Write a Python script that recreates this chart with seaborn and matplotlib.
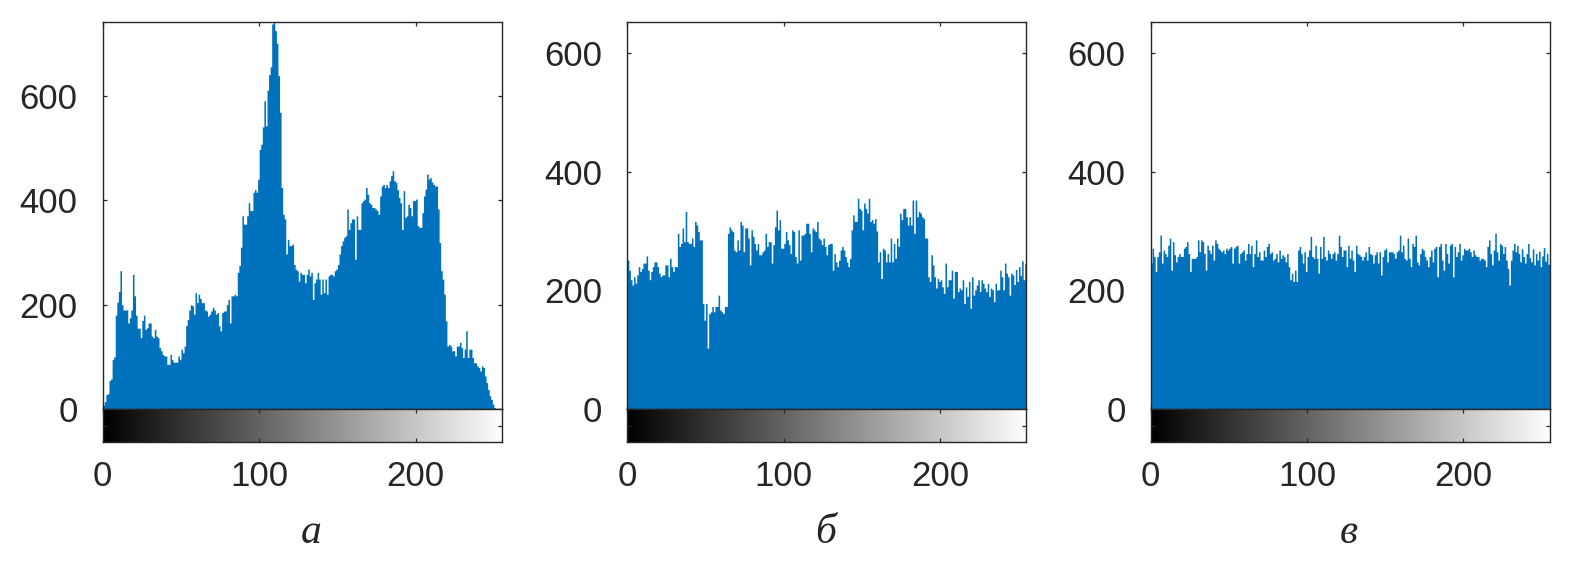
import numpy as np
import matplotlib
matplotlib.use("Agg")
import matplotlib.pyplot as plt
import seaborn as sns

# grey levels 0..255 and the counts
levels = np.arange(256)

counts_a = [
    8, 15, 28, 30, 55, 58, 95, 100, 180, 205, 225, 265, 200, 190, 190, 190,
    165, 175, 190, 258, 217, 180, 155, 155, 137, 170, 180, 153, 156, 165, 165, 140,
    137, 153, 140, 137, 118, 112, 105, 102, 102, 86, 86, 105, 95, 90, 90, 90,
    102, 95, 115, 108, 121, 160, 172, 190, 200, 198, 182, 223, 204, 220, 212, 204,
    204, 190, 188, 178, 182, 188, 195, 190, 182, 185, 160, 150, 185, 188, 188, 200,
    210, 165, 217, 217, 220, 217, 262, 275, 310, 370, 354, 354, 370, 395, 380, 380,
    415, 420, 415, 440, 497, 507, 540, 590, 542, 610, 640, 655, 737, 745, 724, 700,
    638, 568, 424, 373, 364, 297, 325, 313, 313, 316, 277, 268, 265, 245, 262, 258,
    258, 242, 258, 268, 255, 262, 210, 242, 249, 262, 249, 220, 249, 223, 249, 220,
    255, 258, 258, 255, 265, 268, 277, 297, 313, 322, 329, 332, 383, 344, 357, 364,
    364, 287, 370, 344, 344, 395, 399, 402, 424, 411, 395, 392, 386, 386, 383, 380,
    373, 408, 427, 430, 424, 430, 424, 437, 447, 456, 437, 434, 420, 405, 395, 344,
    418, 367, 370, 392, 386, 370, 399, 399, 402, 351, 348, 348, 376, 408, 421, 450,
    440, 443, 435, 430, 427, 427, 383, 319, 265, 249, 220, 169, 121, 124, 121, 112,
    112, 102, 121, 121, 128, 118, 99, 115, 150, 99, 115, 115, 99, 89, 89, 83,
    80, 73, 83, 80, 64, 51, 38, 26, 19, 10, 3, 0, 0, 0, 0, 0,
]

counts_b = [
    251, 234, 218, 209, 223, 212, 226, 240, 232, 237, 246, 246, 258, 234, 218, 232,
    240, 248, 248, 240, 229, 223, 226, 226, 243, 243, 223, 254, 240, 232, 240, 240,
    296, 274, 279, 305, 282, 333, 282, 279, 279, 288, 274, 316, 310, 299, 285, 285,
    178, 150, 178, 103, 161, 164, 173, 164, 173, 173, 192, 167, 164, 161, 173, 173,
    296, 307, 302, 299, 268, 265, 285, 268, 316, 310, 265, 305, 305, 288, 243, 302,
    291, 279, 268, 279, 260, 260, 265, 268, 296, 274, 282, 282, 246, 277, 307, 335,
    302, 319, 271, 271, 279, 299, 285, 277, 262, 302, 299, 257, 246, 302, 251, 293,
    293, 296, 313, 313, 296, 265, 305, 302, 299, 316, 288, 285, 277, 288, 274, 260,
    277, 279, 279, 234, 262, 248, 240, 251, 268, 274, 268, 257, 248, 240, 254, 302,
    327, 316, 316, 355, 338, 335, 302, 347, 338, 330, 355, 316, 319, 313, 321, 300,
    248, 265, 220, 271, 268, 248, 262, 248, 288, 248, 279, 254, 288, 274, 330, 319,
    338, 338, 324, 310, 324, 310, 352, 296, 352, 324, 333, 330, 324, 321, 288, 288,
    223, 215, 260, 243, 223, 204, 220, 215, 218, 206, 195, 246, 206, 218, 218, 234,
    187, 232, 232, 198, 204, 201, 218, 178, 206, 190, 215, 170, 223, 192, 201, 209,
    218, 198, 218, 212, 204, 198, 212, 190, 204, 201, 181, 212, 201, 201, 234, 223,
    201, 246, 229, 223, 192, 229, 226, 210, 235, 215, 240, 225, 250, 218, 245, 210,
]

counts_c = [
    246, 271, 257, 232, 257, 265, 293, 246, 268, 262, 257, 276, 288, 234, 282, 260,
    248, 257, 262, 257, 257, 271, 274, 282, 262, 232, 254, 254, 254, 257, 285, 265,
    285, 282, 262, 234, 276, 268, 262, 276, 251, 285, 279, 271, 268, 265, 268, 262,
    271, 268, 271, 274, 246, 271, 274, 276, 246, 262, 265, 268, 251, 262, 279, 262,
    276, 240, 262, 285, 257, 265, 251, 251, 268, 257, 274, 279, 262, 265, 251, 254,
    262, 248, 268, 254, 260, 257, 248, 262, 240, 218, 229, 215, 234, 215, 268, 274,
    262, 246, 265, 232, 257, 268, 291, 257, 254, 276, 254, 229, 274, 254, 291, 257,
    251, 268, 262, 254, 262, 265, 251, 262, 293, 274, 257, 268, 268, 240, 276, 254,
    268, 251, 232, 276, 262, 260, 257, 251, 257, 265, 251, 274, 262, 260, 246, 260,
    265, 246, 265, 226, 257, 268, 271, 248, 265, 265, 265, 262, 254, 265, 268, 293,
    265, 276, 254, 251, 288, 254, 240, 279, 274, 293, 248, 243, 262, 271, 268, 257,
    251, 240, 257, 268, 248, 271, 274, 223, 274, 279, 251, 234, 279, 262, 246, 276,
    279, 223, 274, 257, 265, 279, 251, 260, 271, 268, 268, 271, 265, 257, 268, 260,
    257, 257, 251, 254, 254, 251, 240, 274, 285, 262, 243, 268, 296, 265, 251, 279,
    276, 262, 274, 251, 237, 209, 251, 268, 279, 265, 276, 262, 248, 270, 257, 246,
    262, 279, 255, 248, 270, 243, 262, 251, 266, 240, 258, 272, 249, 262, 244, 250,
]

panel_counts = [counts_a, counts_b, counts_c]
panel_labels = ["а", "б", "в"]
y_tops = [740, 651, 651]
x_ticks = [0, 100, 200]
y_ticks = [0, 200, 400, 600]

sns.set_theme(style="white")
plt.rcParams["font.family"] = ["Liberation Sans", "DejaVu Sans"]

W, H = 1590, 573
fig = plt.figure(figsize=(W / 100, H / 100), dpi=100)

bar_color = "#0072BD"
ink = "#262626"
lefts = [102.7, 627.3, 1150.5]
label_x = [311, 826, 1349]
ax_w = 399.0
y_top, y_zero, y_bot = 22.3, 409.3, 441.7

for left, lx, counts, label, top in zip(lefts, label_x, panel_counts,
                                        panel_labels, y_tops):
    ax = fig.add_axes([left / W, 1 - y_zero / H, ax_w / W, (y_zero - y_top) / H])
    strip = fig.add_axes([left / W, 1 - y_bot / H, ax_w / W, (y_bot - y_zero) / H])

    sns.histplot(x=levels, weights=counts, bins=256, binrange=(0, 256),
                 element="step", fill=True, color=bar_color, alpha=1,
                 linewidth=0, ax=ax)
    ax.set_xlim(0, 255)
    ax.set_ylim(0, top)
    ax.set_xticks(x_ticks)
    ax.set_yticks(y_ticks)
    ax.set_xlabel("")
    ax.set_ylabel("")
    ax.tick_params(direction="in", top=True, right=True, bottom=True, left=True,
                   labelbottom=False, length=3, width=0.9, color=ink,
                   labelsize=25, labelcolor=ink)
    ax.tick_params(axis="y", pad=18)

    # grey-level gradient under the histogram
    strip.imshow(levels[None, :], cmap="gray", vmin=0, vmax=255, aspect="auto",
                 extent=[0, 256, 0, 1])
    strip.set_xlim(0, 255)
    strip.set_ylim(0, 1)
    strip.set_xticks(x_ticks)
    strip.set_yticks([0.5])
    strip.set_yticklabels([])
    strip.tick_params(direction="in", top=True, right=True, bottom=True, left=True,
                      length=3, width=0.9, color=ink, labelsize=25,
                      labelcolor=ink)
    strip.tick_params(axis="x", pad=13)

    for a in (ax, strip):
        for s in a.spines.values():
            s.set_color(ink)
            s.set_linewidth(1.0)

    fig.text(lx / W, 1 - 533 / H, label, fontsize=30,
             style="italic", family=["Liberation Serif", "DejaVu Serif"],
             color=ink, ha="center", va="center")

fig.savefig("out.png", dpi=100)
